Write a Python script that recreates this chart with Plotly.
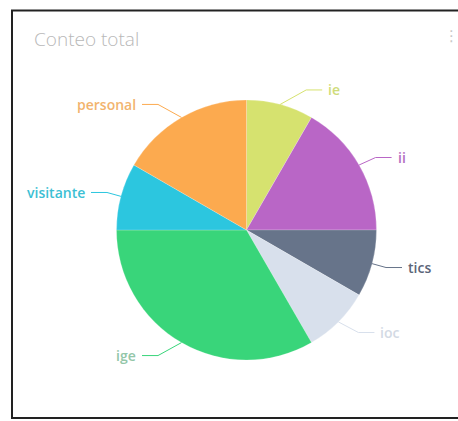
import math
import plotly.graph_objects as go

# ---- data ----
labels = ["ie", "ii", "tics", "ioc", "ige", "visitante", "personal"]
values = [1, 2, 1, 1, 4, 1, 2]
colors = ["#d6e26f", "#b966c6", "#67748a", "#d8e0ec", "#39d57a", "#2cc6df", "#fcaa4f"]
text_colors = ["#cfdc7a", "#b46cc2", "#5b6578", "#d3dae4", "#93c6a8", "#3cbfd4", "#f2b46e"]

# ---- layout constants (pixels) ----
W, H = 458, 421
CX, CY, R = 246.5, 230.0, 130.0
L1, L2, GAP = 15.0, 16.0, 4.0


def px(x):
    return x / W


def py(y):
    return 1 - y / H


fig = go.Figure()
fig.add_trace(go.Pie(
    labels=labels, values=values, sort=False, direction="clockwise", rotation=0,
    marker=dict(colors=colors, line=dict(color="rgba(255,255,255,0.4)", width=0.5)),
    textinfo="none", hoverinfo="label+value", showlegend=False,
    domain=dict(x=[px(CX - R), px(CX + R)], y=[py(CY + R), py(CY - R)]),
))

shapes = []
annotations = []
total = sum(values)
cum = 0.0
for lab, v, lc, tc in zip(labels, values, colors, text_colors):
    mid = (cum + v / 2) / total * 2 * math.pi
    cum += v
    s, c = math.sin(mid), math.cos(mid)
    sign = 1 if s > 0 else -1
    ex, ey = CX + R * s, CY - R * c
    kx = ex + sign * (13 + 14 * c * c)
    ky = ey - L1 * c
    tx = kx + sign * L2
    shapes.append(dict(
        type="path", xref="paper", yref="paper",
        path=f"M {px(ex)},{py(ey)} L {px(kx)},{py(ky)} L {px(tx)},{py(ky)}",
        line=dict(color=lc, width=1),
    ))
    annotations.append(dict(
        x=px(tx + sign * GAP), y=py(ky), xref="paper", yref="paper",
        text=lab, showarrow=False, xanchor="left" if sign > 0 else "right",
        yanchor="middle", font=dict(family="Open Sans", size=14, color=tc, weight=600),
    ))

# card frame
shapes.append(dict(type="rect", xref="paper", yref="paper",
                   x0=px(12), x1=px(W + 20), y0=py(418), y1=py(10.5),
                   line=dict(color="#222222", width=2), layer="below"))

annotations.append(dict(x=px(32), y=py(39), xref="paper", yref="paper",
                        text="Conteo total", showarrow=False, xanchor="left", yanchor="middle",
                        font=dict(family="Open Sans", size=19, color="#b8b8b8", weight=300)))
annotations.append(dict(x=px(442), y=py(36), xref="paper", yref="paper",
                        text="⋮", showarrow=False, xanchor="left", yanchor="middle",
                        font=dict(family="DejaVu Sans", size=15, color="#c8c8c8")))

fig.update_layout(
    width=W, height=H, margin=dict(l=0, r=0, t=0, b=0),
    paper_bgcolor="white", plot_bgcolor="white",
    shapes=shapes, annotations=annotations,
)

fig.write_html("out.html", config={"displayModeBar": False},
               post_script="document.body.style.margin='0';")
